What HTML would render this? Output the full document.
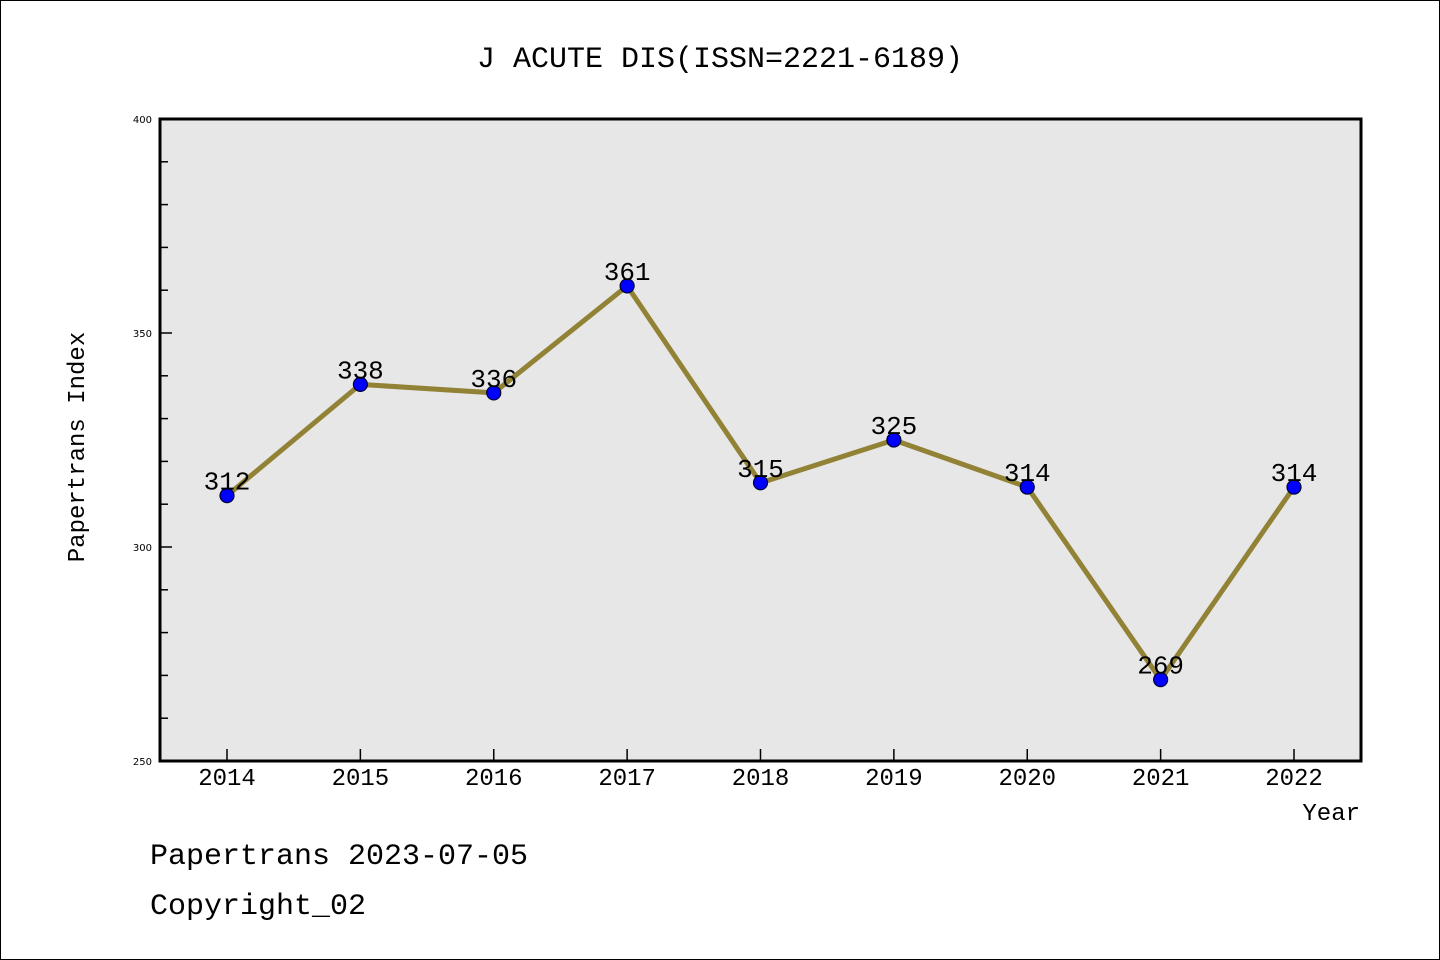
<!DOCTYPE html>
<html><head><meta charset="utf-8"><style>
body{margin:0;background:#fff}
svg{display:block}
text{font-family:"WenQuanYi Zen Hei","Liberation Mono",monospace}
</style></head><body>
<svg width="1440" height="960">
<rect x="0.5" y="0.5" width="1439" height="959" fill="#fff" stroke="#000"/>
<text x="720" y="67" font-size="30" text-anchor="middle">J ACUTE DIS(ISSN=2221-6189)</text>
<rect x="160" y="119" width="1201" height="642" fill="#e7e7e7" stroke="#000" stroke-width="3"/>
<g id="yticks"></g><g id="xticks"></g>
<polyline id="line" fill="none" stroke="#928236" stroke-width="5" stroke-linejoin="round"/>
<g id="pts"></g>
<text x="0" y="0" transform="translate(84,447) rotate(-90)" font-size="24" text-anchor="middle">Papertrans Index</text>
<text x="1360" y="820" font-size="24" text-anchor="end">Year</text>
<text x="150" y="864" font-size="30">Papertrans 2023-07-05</text>
<text x="150" y="914" font-size="30">Copyright_02</text>
</svg>
<script>
const years=["2014","2015","2016","2017","2018","2019","2020","2021","2022"];
const values=[312,338,336,361,315,325,314,269,314];
const yTickLabels=[250,300,350,400];
const NS="http://www.w3.org/2000/svg";
const x0=227,x1=1294,yMin=250,yMax=400,pyB=761,pyT=119;
const X=i=>x0+(x1-x0)*i/(years.length-1);
const Y=v=>pyB-(v-yMin)/(yMax-yMin)*(pyB-pyT);
function mk(t,a,p){const e=document.createElementNS(NS,t);for(const k in a)e.setAttribute(k,a[k]);p.appendChild(e);return e;}
const yt=document.getElementById('yticks');
for(let v=yMin;v<=yMax;v+=10){const major=yTickLabels.includes(v);
const l=mk('line',{x1:160,x2:major?172:168,y1:Y(v),y2:Y(v),stroke:'#000','stroke-width':1.5},yt);

}
yTickLabels.forEach(v=>{const t=mk('text',{x:152,y:Y(v)+4,'font-size':10,'text-anchor':'end',style:'font-family:"DejaVu Sans",sans-serif'},yt);t.textContent=v;

});
const xt=document.getElementById('xticks');
years.forEach((y,i)=>{const l=mk('line',{x1:X(i),x2:X(i),y1:761,y2:749,stroke:'#000','stroke-width':1.5},xt);


const t=mk('text',{x:X(i),y:785,'font-size':24,'text-anchor':'middle'},xt);t.textContent=y;

});
document.getElementById('line').setAttribute('points',values.map((v,i)=>X(i)+','+Y(v)).join(' '));
const pts=document.getElementById('pts');
values.forEach((v,i)=>{const c=mk('circle',{cx:X(i),cy:Y(v),r:7,fill:'#0000ff',stroke:'#000033','stroke-width':1.2},pts);


const t=mk('text',{x:X(i),y:Y(v)-6,'font-size':26,'text-anchor':'middle'},pts);t.textContent=v;

});
</script>
</body></html>
